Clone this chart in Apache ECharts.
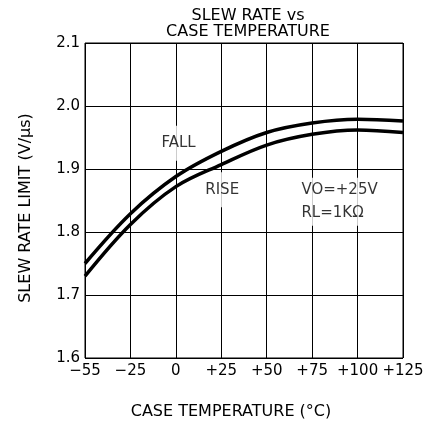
<!DOCTYPE html>
<html>
<head>
<meta charset="utf-8">
<script src="https://cdn.jsdelivr.net/npm/echarts@6/dist/echarts.min.js"></script>
<style>
  html, body { margin: 0; padding: 0; background: #fff; }
  #box { width: 441px; height: 426px; }
</style>
</head>
<body>
<div id="box"></div>
<script>
// tick temperatures (evenly spaced on the sheet, even though -55..-25 is 30 deg)
let tempTicks = [-55, -25, 0, 25, 50, 75, 100, 125];
let tempLabels = ["\u221255", "\u221225", "0", "+25", "+50", "+75", "+100", "+125"];
let temps = [-55, -25, 0, 25, 50, 75, 100, 125];
let fall = [1.750, 1.829, 1.888, 1.928, 1.958, 1.973, 1.979, 1.976];
let rise = [1.730, 1.812, 1.872, 1.907, 1.938, 1.955, 1.962, 1.958];
// text notes on the plot: [temp, value, text, align]
let notes = [
  [1.5, 1.941, "FALL", "center"],
  [25.5, 1.867, "RISE", "center"],
  [68, 1.848, "VO=+25V\nRL=1K\u03a9", "left"]
];

let font = "DejaVu Sans";

// temp -> position on the evenly spaced scale
function pos(t) {
  for (let i = 0; i < tempTicks.length - 1; i++) {
    let a = tempTicks[i], b = tempTicks[i + 1];
    if (t <= b || i === tempTicks.length - 2) {
      return i + (t - a) / (b - a);
    }
  }
}

function pairs(ys) {
  return temps.map((t, i) => [pos(t), ys[i]]);
}

let chart = echarts.init(document.getElementById("box"), null, { renderer: "canvas" });

let option = {
  animation: false,
  title: {
    text: "SLEW RATE vs\nCASE TEMPERATURE",
    left: 243,
    top: 3,
    textAlign: "center",
    textStyle: { fontFamily: font, fontSize: 16, fontWeight: "normal", color: "#000", lineHeight: 16 }
  },
  grid: {
    left: 85, right: 38, top: 43, bottom: 68,
    show: true, borderColor: "#000", borderWidth: 1
  },
  xAxis: {
    type: "value",
    min: 0, max: 7, interval: 1,
    name: "CASE TEMPERATURE (\u00b0C)",
    nameLocation: "middle",
    nameGap: 46,
    nameTextStyle: { fontFamily: font, fontSize: 16, color: "#000", padding: [0, 26, 0, 0] },
    axisLine: { show: false },
    axisTick: { show: false },
    axisLabel: {
      fontFamily: font, fontSize: 15, color: "#000", margin: 6,
      formatter: v => tempLabels[Math.round(v)]
    },
    splitLine: { show: true, lineStyle: { color: "#000", width: 1 } }
  },
  yAxis: {
    type: "value",
    min: 1.6, max: 2.1, interval: 0.1,
    name: "SLEW RATE LIMIT (V/\u03bcs)",
    nameLocation: "middle",
    nameGap: 51,
    nameTextStyle: { fontFamily: font, fontSize: 16, color: "#000", padding: [0, 15, 0, 0] },
    axisLine: { show: false },
    axisTick: { show: false },
    axisLabel: {
      fontFamily: font, fontSize: 15, color: "#000", margin: 5,
      formatter: v => v.toFixed(1)
    },
    splitLine: { show: true, lineStyle: { color: "#000", width: 1 } }
  },
  series: [
    {
      name: "FALL", type: "line", z: 3, smooth: 0.35,
      data: pairs(fall), showSymbol: false,
      lineStyle: { color: "#000", width: 3.5 }
    },
    {
      name: "RISE", type: "line", z: 3, smooth: 0.35,
      data: pairs(rise), showSymbol: false,
      lineStyle: { color: "#000", width: 3.5 }
    },
    {
      type: "scatter", z: 1, symbolSize: 0, silent: true,
      data: notes.map(n => ({
        value: [pos(n[0]), n[1]],
        label: {
          show: true, formatter: n[2], position: "inside",
          align: n[3], verticalAlign: "middle",
          fontFamily: font, fontSize: 15, color: "#000", lineHeight: 23,
          backgroundColor: "#fff", padding: n[2].indexOf("\n") >= 0 ? [1, 2, 1, 2] : [6, 2, 6, 2]
        }
      }))
    }
  ]
};

chart.setOption(option);
</script>
</body>
</html>
